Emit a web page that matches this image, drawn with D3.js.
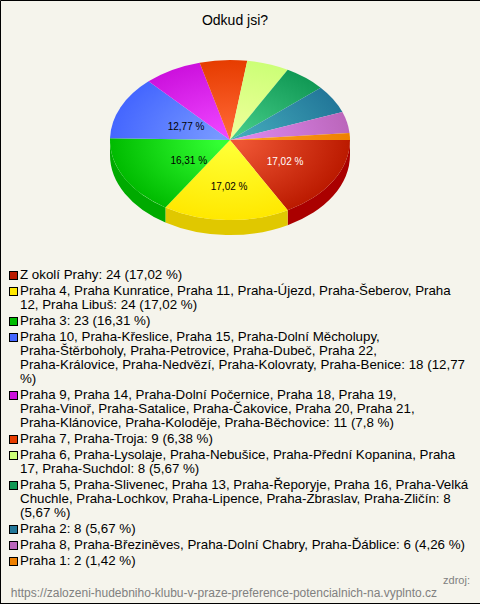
<!DOCTYPE html>
<html><head><meta charset="utf-8">
<script src="https://cdn.jsdelivr.net/npm/d3@7"></script>
<style>html,body{margin:0;padding:0;background:#f5f4ec}svg{display:block}text{font-family:"Liberation Sans",Arial,sans-serif}</style>
</head><body><div id="chart"></div>
<script>
const title = "Odkud jsi?";
const categories = ["Z okolí Prahy","Praha 4","Praha 3","Praha 10","Praha 9","Praha 7","Praha 6","Praha 5","Praha 2","Praha 8","Praha 1"];
const values = [24,24,23,18,11,9,8,8,8,6,2];
const percentLabels = ["17,02 %","17,02 %","16,31 %","12,77 %",null,null,null,null,null,null,null];
const labelColors = ["#fff","#000","#000","#000"];
const baseColors = ["#bb1a00","#ffe800","#00bb00","#4466ff","#cc11dd","#e63c00","#ccff77","#119955","#227799","#bb66bb","#ee8000"];
const lightColors = ["#ee5533","#ffff33","#33ff33","#7799ff","#ee44ff","#ff6633","#eeff99","#44cc88","#44aabb","#dd88ee","#ffa020"];
const sideColors = ["#aa0000","#e0c800","#00aa00"];
const legendLines = [
 ["Z okolí Prahy: 24 (17,02 %)"],
 ["Praha 4, Praha Kunratice, Praha 11, Praha-Újezd, Praha-Šeberov, Praha","12, Praha Libuš: 24 (17,02 %)"],
 ["Praha 3: 23 (16,31 %)"],
 ["Praha 10, Praha-Křeslice, Praha 15, Praha-Dolní Měcholupy,","Praha-Štěrboholy, Praha-Petrovice, Praha-Dubeč, Praha 22,","Praha-Královice, Praha-Nedvězí, Praha-Kolovraty, Praha-Benice: 18 (12,77","%)"],
 ["Praha 9, Praha 14, Praha-Dolní Počernice, Praha 18, Praha 19,","Praha-Vinoř, Praha-Satalice, Praha-Čakovice, Praha 20, Praha 21,","Praha-Klánovice, Praha-Koloděje, Praha-Běchovice: 11 (7,8 %)"],
 ["Praha 7, Praha-Troja: 9 (6,38 %)"],
 ["Praha 6, Praha-Lysolaje, Praha-Nebušice, Praha-Přední Kopanina, Praha","17, Praha-Suchdol: 8 (5,67 %)"],
 ["Praha 5, Praha-Slivenec, Praha 13, Praha-Řeporyje, Praha 16, Praha-Velká","Chuchle, Praha-Lochkov, Praha-Lipence, Praha-Zbraslav, Praha-Zličín: 8","(5,67 %)"],
 ["Praha 2: 8 (5,67 %)"],
 ["Praha 8, Praha-Březiněves, Praha-Dolní Chabry, Praha-Ďáblice: 6 (4,26 %)"],
 ["Praha 1: 2 (1,42 %)"]
];
const sourceLabel = "zdroj:";
const sourceUrl = "https://zalozeni-hudebniho-klubu-v-praze-preference-potencialnich-na.vyplnto.cz";

const W=480,H=604,cx=230,cy=140,rx=120,ry=80,depth=15;
const svg=d3.select("#chart").append("svg").attr("width",W).attr("height",H);
svg.append("rect").attr("width",W).attr("height",H).attr("fill","#f5f4ec");
svg.append("path").attr("d",`M0.5 ${H}V0.5H${W}`).attr("fill","none").attr("stroke","#000");
svg.append("path").attr("d",`M0 ${H-0.5}H${W}`).attr("fill","none").attr("stroke","#000");
svg.append("text").attr("x",cx+5).attr("y",25).attr("text-anchor","middle").attr("font-size",14).attr("fill","#000").text(title);

const defs=svg.append("defs");
values.forEach((v,i)=>{
  const g=defs.append("radialGradient").attr("id","g"+i).attr("gradientUnits","userSpaceOnUse").attr("cx",0).attr("cy",0).attr("r",1);
  g.append("stop").attr("offset",0.1).attr("stop-color",lightColors[i]);
  g.append("stop").attr("offset",1).attr("stop-color",baseColors[i]);
});
const pie=d3.pie().sort(null).startAngle(Math.PI/2).endAngle(Math.PI*2.5);
const arcs=pie(values);
const arc=d3.arc().innerRadius(0).outerRadius(1);
const X=d3.scaleLinear().domain([-1,1]).range([cx-rx,cx+rx]);
const Y=d3.scaleLinear().domain([-1,1]).range([cy-ry,cy+ry]);

const edge=(a)=>[X(Math.sin(a)),Y(-Math.cos(a))];
arcs.forEach((d,i)=>{
  const s=Math.max(d.startAngle,Math.PI/2), e=Math.min(d.endAngle,Math.PI*1.5);
  if(e<=s) return;
  const p0=edge(s),p1=edge(e);
  const dstr=`M${p0[0]} ${p0[1]}A${rx} ${ry} 0 0 1 ${p1[0]} ${p1[1]}L${p1[0]} ${p1[1]+depth}A${rx} ${ry} 0 0 0 ${p0[0]} ${p0[1]+depth}Z`;
  svg.append("path").attr("d",dstr).attr("fill",sideColors[i]||baseColors[i]);
});
const pieTop=svg.append("g").attr("transform",`translate(${cx},${cy}) scale(${rx},${ry})`);
pieTop.selectAll("path").data(arcs).join("path").attr("d",arc).attr("fill",(d,i)=>`url(#g${i})`);

const nudgeX=[6.5,1,8.5,7.5], nudgeY=[0,4,0,3];
arcs.forEach((d,i)=>{
  if(!percentLabels[i]) return;
  const m=(d.startAngle+d.endAngle)/2;
  svg.append("text").attr("x",X(Math.sin(m)*0.47)+nudgeX[i]).attr("y",Y(-Math.cos(m)*0.52)+4+nudgeY[i])
    .attr("text-anchor","middle").attr("font-size",10).attr("fill",labelColors[i]).text(percentLabels[i]);
});

const legendTop=274.5,lh=14,gap=2,legendFont=13.33;
let y=legendTop;
legendLines.forEach((lines,i)=>{
  svg.append("rect").attr("x",9.5).attr("y",Math.round(y-4)+.5).attr("width",8).attr("height",8).attr("fill",baseColors[i]).attr("stroke","#000");
  lines.forEach((t,j)=>{
    svg.append("text").attr("x",20).attr("y",Math.round(y+4.5+j*lh)).attr("font-size",legendFont).attr("fill","#000").text(t);
  });
  y+=lines.length*lh+gap;
});
svg.append("text").attr("x",470).attr("y",584).attr("text-anchor","end").attr("font-size",11).attr("fill","#808080").text(sourceLabel);
svg.append("text").attr("x",437).attr("y",597).attr("text-anchor","end").attr("font-size",12).attr("fill","#808080").text(sourceUrl);
</script></body></html>
